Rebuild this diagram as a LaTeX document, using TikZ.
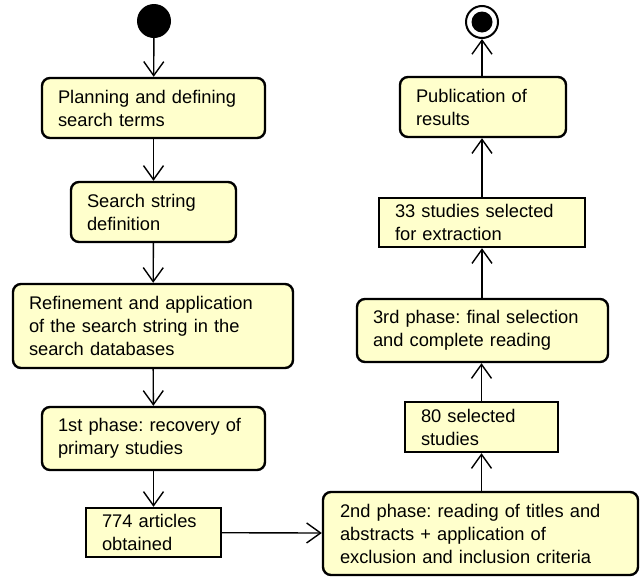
\documentclass[tikz,border=0pt]{standalone}
\usepackage{fontspec}
\setmainfont{Liberation Sans}
\usetikzlibrary{arrows.meta}
\definecolor{actfill}{RGB}{255,255,204}
\tikzset{
  act/.style={draw,line width=2.4pt,fill=actfill,rounded corners=8pt,
    anchor=center,align=left,inner xsep=16pt,inner ysep=0pt,
    font=\fontsize{18.3}{23}\selectfont\frenchspacing},
  obj/.style={act,rounded corners=0pt},
  flow/.style={line width=1.4pt,-{Straight Barb[length=14pt,width=20pt]}}
}
\begin{document}
\begin{tikzpicture}[x=1pt,y=-1pt]
    \useasboundingbox (0,0) rectangle (640,576);

    \coordinate (s0) at (154, 21);
    \coordinate (s1) at (153.5, 108);
    \coordinate (s2) at (153.5, 212);
    \coordinate (s3) at (153, 326);
    \coordinate (s4) at (153.5, 438.5);
    \coordinate (s5) at (153.5, 532.5);
    \coordinate (s6) at (480.5, 533.5);
    \coordinate (s7) at (481.5, 427);
    \coordinate (s8) at (482.5, 330.5);
    \coordinate (s9) at (482, 222.5);
    \coordinate (s10) at (483, 107);
    \coordinate (s11) at (482, 22);

    \node [circle,fill,inner sep=0pt,minimum size=34pt] (start) at (s0) {};

    \node [act,text width=191pt,minimum height=60pt] (plan) at (s1)
    {Planning and defining\\search terms};

    \node [act,text width=133pt,minimum height=60pt] (string) at (s2)
    {Search string\\definition};

    \node [act,text width=248pt,minimum height=84pt] (refine) at (s3)
    {Refinement and application\\of the search string in the\\search databases};

    \node [act,text width=191pt,minimum height=63pt] (phase1) at (s4)
    {1st phase: recovery of\\primary studies};

    \node [obj,text width=103pt,minimum height=49pt] (articles) at (s5)
    {774 articles\\obtained};

    \node [act,text width=281pt,minimum height=83pt,inner xsep=17pt] (phase2) at (s6)
    {2nd phase: reading of titles and\\abstracts + application of\\exclusion and inclusion criteria};

    \node [obj,text width=121pt,minimum height=50pt] (selected) at (s7)
    {80 selected\\studies};

    \node [act,text width=219pt,minimum height=63pt] (phase3) at (s8)
    {3rd phase: final selection\\and complete reading};

    \node [obj,text width=174pt,minimum height=49pt] (extract) at (s9)
    {33 studies selected\\for extraction};

    \node [act,text width=134pt,minimum height=60pt] (publish) at (s10)
    {Publication of\\results};

    \node [circle,draw,line width=2pt,fill=white,inner sep=0pt,
    minimum size=32pt] (end) at (s11) {};
    \node [circle,fill,inner sep=0pt,minimum size=21pt] (endin) at (s11) {};

    \draw [flow] (start) -- (plan);
    \draw [flow] (plan) -- (string);
    \draw [flow] (string) -- (refine);
    \draw [flow] (refine) -- (phase1);
    \draw [flow] (phase1) -- (articles);
    \draw [flow] (articles) -- (phase2);
    \draw [flow] (phase2.north -| selected.south) -- (selected);
    \draw [flow] (selected) -- (phase3.south -| selected.north);
    \draw [flow] (phase3.north -| extract.south) -- (extract);
    \draw [flow] (extract) -- (publish.south -| extract.north);
    \draw [flow] (publish.north -| end.south) -- (end);
  \end{tikzpicture}
\end{document}
